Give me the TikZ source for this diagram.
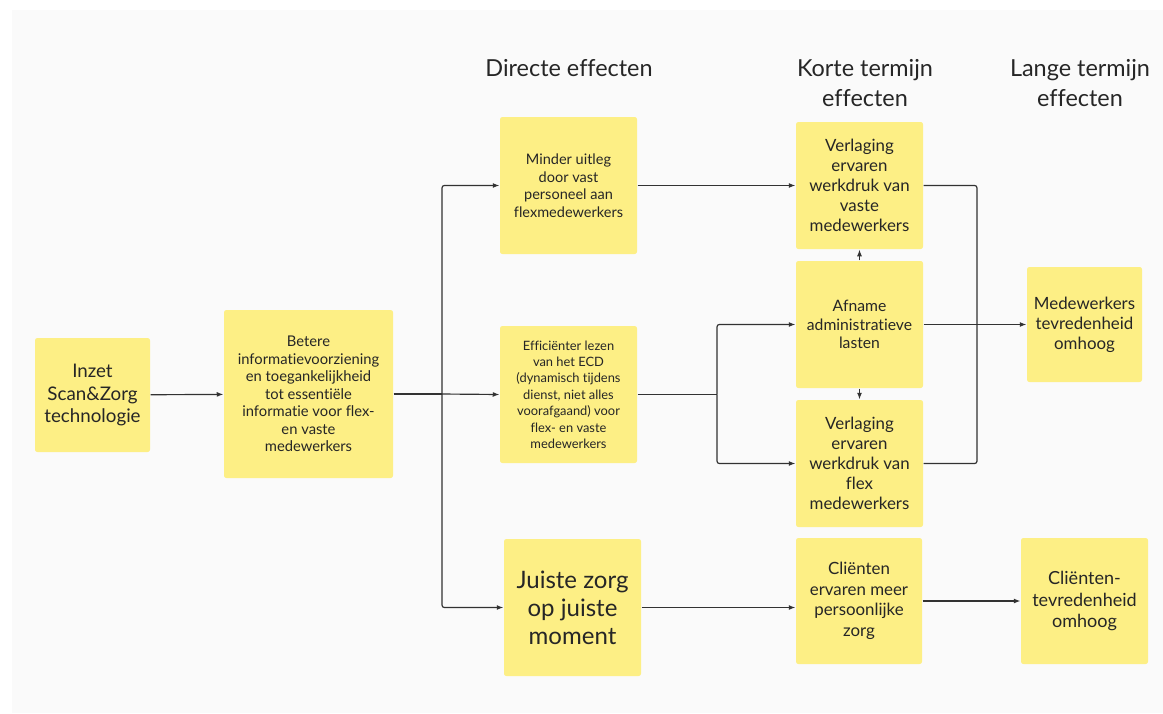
\documentclass[tikz,border=0pt]{standalone}
\usepackage{fontspec}
\setmainfont{Lato}[Ligatures = NoCommon]
\usetikzlibrary{arrows.meta, calc}

\definecolor{sticky}{RGB}{253,239,133}
\definecolor{panel}{RGB}{250,250,250}
\definecolor{wire}{RGB}{50,50,50}

\begin{document}
\begin{tikzpicture}[%
        x = 0.3mm,
        y = -0.3mm,
        > = {Latex[length = 2mm, width = 1.5mm]},
        line width = 0.35mm,
        card/.style = {%
            fill = sticky,
            rounded corners = 2pt,
            align = center,
            inner sep = 0pt,
            text = black!85
        },
        boxsize/.style args = {#1x#2}{%
            minimum width = #1*0.3mm,
            minimum height = #2*0.3mm
        },
        header/.style = {%
            align = center,
            text = black!85,
            font = \fontsize{20}{25}\selectfont
        },
        wire/.style = {draw = wire, rounded corners = 2pt}
    ]

        % Canvas and grey panel.
        \useasboundingbox[fill = white] (0, 0) rectangle (1163, 713);
        \fill[panel] (12, 10) rectangle (1163, 713);

        % Column headers.
        \node[header] (hdirect) at (569, 68) {Directe effecten};
        \node[header] (hshort) at (865, 83) {Korte termijn\\effecten};
        \node[header] (hlong) at (1080, 83) {Lange termijn\\effecten};

        % Input and output.
        \node[card, boxsize = 115x114, font = \fontsize{16}{19}\selectfont]
            (inzet) at (92.5, 395) {Inzet\\Scan\&Zorg\\technologie};
        \node[card, boxsize = 169x168, font = \fontsize{12.6}{15}\selectfont]
            (betere) at (308.5, 394) {Betere\\informatievoorziening\\en toegankelijkheid\\tot essenti\"ele\\informatie voor flex-\\en vaste\\medewerkers};

        % Direct effects.
        \node[card, boxsize = 137x137, font = \fontsize{12.4}{15}\selectfont]
            (minder) at (568.5, 185.5) {Minder uitleg\\door vast\\personeel aan\\flexmedewerkers};
        \node[card, boxsize = 137x137, font = \fontsize{11}{14}\selectfont]
            (efficient) at (568.5, 394.5) {Effici\"enter lezen\\van het ECD\\(dynamisch tijdens\\dienst, niet alles\\voorafgaand) voor\\flex- en vaste\\medewerkers};
        \node[card, boxsize = 137x137, font = \fontsize{20.5}{24}\selectfont]
            (juiste) at (572.5, 607.5) {Juiste zorg\\op juiste\\moment};

        % Short term effects.
        \node[card, boxsize = 127x127, font = \fontsize{14.4}{17}\selectfont]
            (vaste) at (859.5, 185.5) {Verlaging\\ervaren\\werkdruk van\\vaste\\medewerkers};
        \node[card, boxsize = 127x127, font = \fontsize{13.4}{15.7}\selectfont]
            (afname) at (859.5, 324.5) {Afname\\administratieve\\lasten};
        \node[card, boxsize = 127x127, font = \fontsize{14.4}{17}\selectfont]
            (flex) at (859.5, 463.5) {Verlaging\\ervaren\\werkdruk van\\flex\\medewerkers};
        \node[card, boxsize = 126x126, font = \fontsize{14.4}{17.5}\selectfont]
            (clienten) at (859, 601) {Cli\"enten\\ervaren meer\\persoonlijke\\zorg};

        % Long term effects.
        \node[card, boxsize = 115x115, font = \fontsize{14.4}{17}\selectfont]
            (medew) at (1084.5, 324.5) {Medewerkers\\tevredenheid\\omhoog};
        \node[card, boxsize = 127x126, font = \fontsize{15.4}{18.7}\selectfont]
            (clientvr) at (1084.5, 601) {Cli\"enten-\\tevredenheid\\omhoog};

        % Branch points.
        \coordinate (split1) at (442, 394);
        \coordinate (split2) at (717, 394.5);
        \coordinate (merge) at (977, 324.5);

        % Connectors.
        \draw[wire, ->] (inzet) to (betere);
        \draw[wire] (betere.east) to (split1);
        \draw[wire, ->] (split1) |- (minder.west);
        \draw[wire, ->] (split1) to (efficient.west);
        \draw[wire, ->] (split1) |- (juiste.west);

        \draw[wire, ->] (minder) to (vaste);
        \draw[wire] (efficient.east) to (split2);
        \draw[wire, ->] (split2) |- (afname.west);
        \draw[wire, ->] (split2) |- (flex.west);

        \draw[wire, ->] (afname.north) to (vaste.south);
        \draw[wire, ->] (afname.south) to (flex.north);

        \draw[wire] (vaste.east) -| (merge);
        \draw[wire] (flex.east) -| (merge);
        \draw[wire, ->] (afname) to (medew);

        \draw[wire, ->] (juiste.east) to (juiste.east -| clienten.west);
        \draw[wire, ->] (clienten) to (clientvr);
    \end{tikzpicture}
\end{document}
